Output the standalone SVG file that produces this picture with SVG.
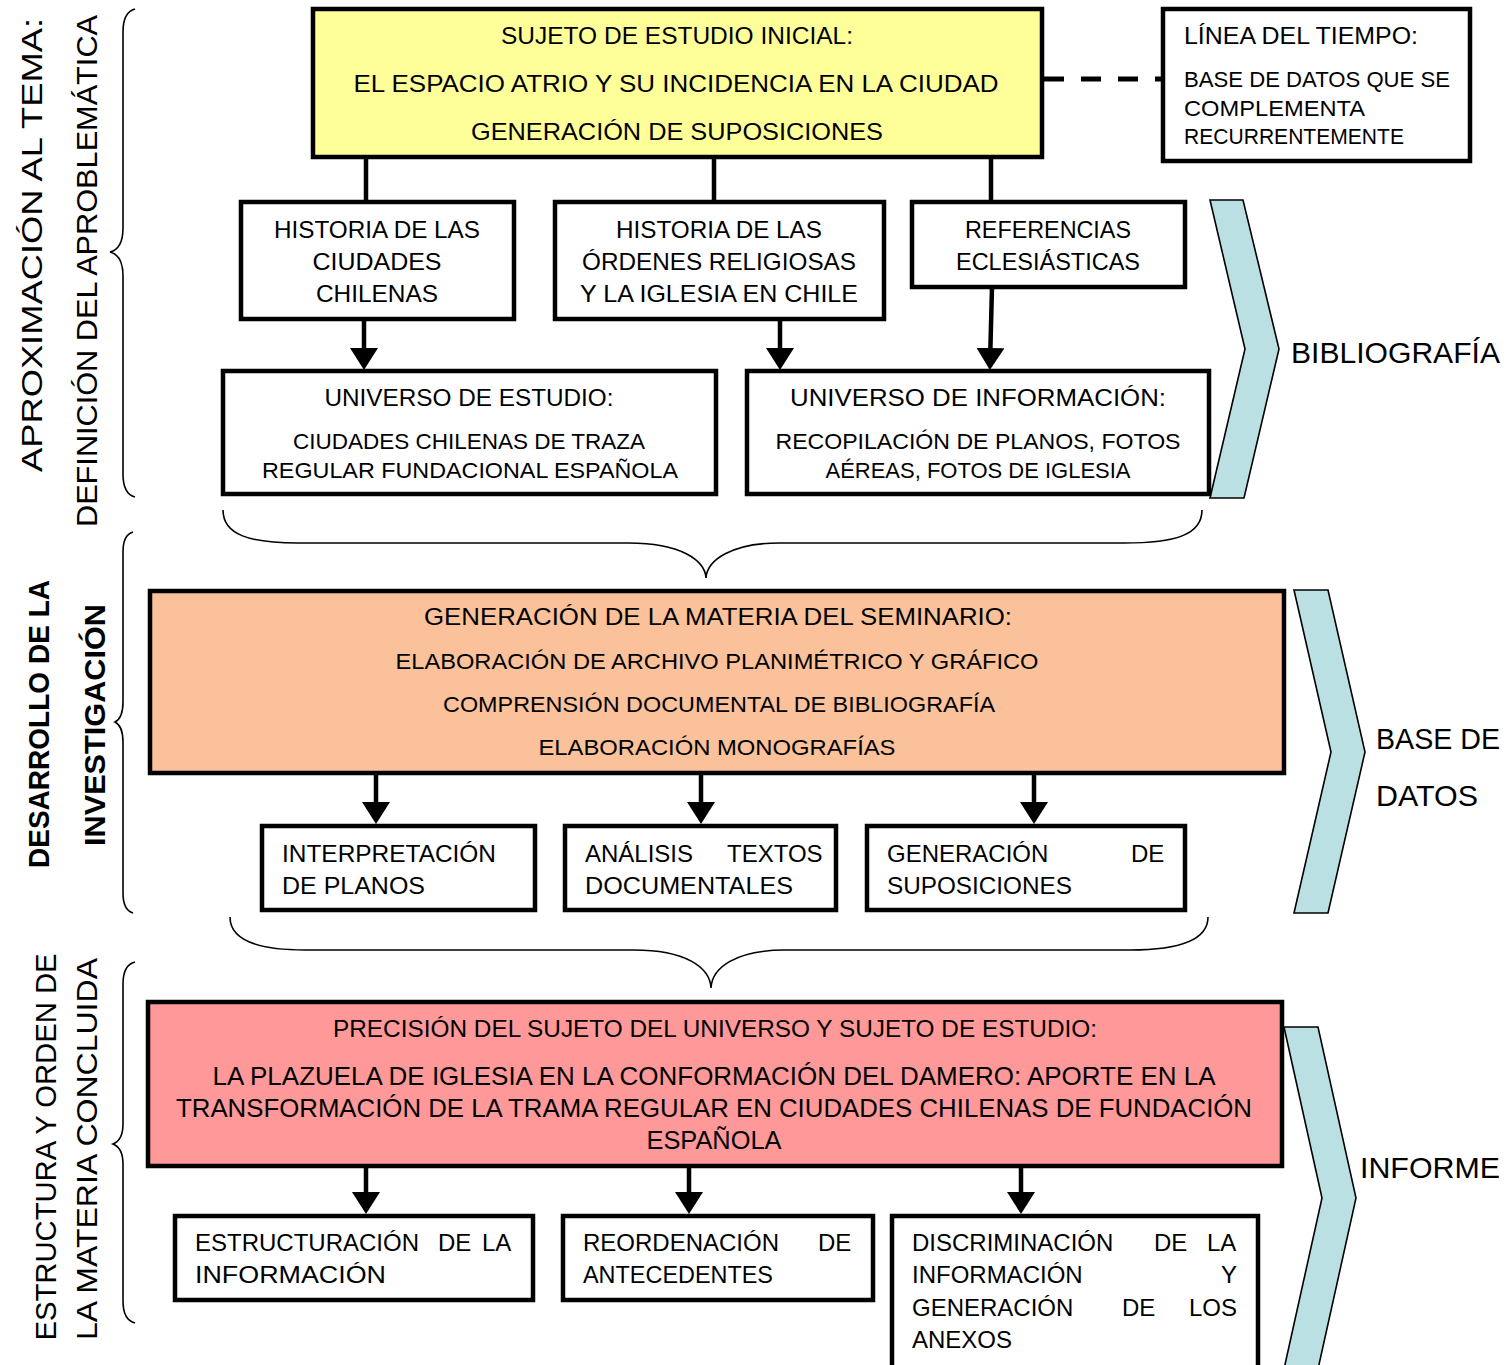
<svg xmlns="http://www.w3.org/2000/svg" width="1508" height="1365" viewBox="0 0 1508 1365">
<defs>
<style>
text{font-family:"Liberation Sans",Arial,sans-serif;fill:#000}
.c{text-anchor:middle}
.f24{font-size:24px}
.f22{font-size:22px}
.f26{font-size:26px}
.f30{font-size:30px}
.bx{stroke:#000;stroke-width:4.5}
.w{fill:#fff}
.chev{fill:#BBE0E3;stroke:#000;stroke-width:1.6;stroke-linejoin:miter}
.brace{fill:none;stroke:#000;stroke-width:1.6}
.ln{stroke:#000;stroke-width:4.5;fill:none}
.ar{stroke:#000;stroke-width:4.5;fill:none;marker-end:url(#ah)}
</style>
<marker id="ah" viewBox="0 0 22 28" refX="16" refY="14" markerWidth="22" markerHeight="28" markerUnits="userSpaceOnUse" orient="auto">
<path d="M0,0 L22,14 L0,28 z" fill="#000"/>
</marker>
</defs>
<rect width="1508" height="1365" fill="#fff"/>

<g id="side-labels">
<path class="brace" d="M135,9 C127,11 123,18 123,32 L123,228 C123,244 118,250 110,252 C118,254 123,260 123,276 L123,474 C123,488 127,495 135,497"/>
<text class="c f30" transform="translate(42,245) rotate(-90)" textLength="454" lengthAdjust="spacingAndGlyphs">APROXIMACIÓN AL TEMA:</text>
<text class="c f30" transform="translate(97,271) rotate(-90)" textLength="512" lengthAdjust="spacingAndGlyphs">DEFINICIÓN DEL APROBLEMÁTICA</text>
<path class="brace" d="M133,532 C126,534 123,540 123,552 L123,702 C123,716 119,720 115,722 C119,724 123,728 123,742 L123,893 C123,905 126,911 133,913"/>
<text class="c f30" font-weight="bold" transform="translate(49,724) rotate(-90)" textLength="288" lengthAdjust="spacingAndGlyphs">DESARROLLO DE LA</text>
<text class="c f30" font-weight="bold" transform="translate(105,725) rotate(-90)" textLength="242" lengthAdjust="spacingAndGlyphs">INVESTIGACIÓN</text>
<path class="brace" d="M135,962 C127,964 123,971 123,984 L123,1124 C123,1138 118,1142 113,1144 C118,1146 123,1150 123,1164 L123,1301 C123,1314 127,1321 135,1323"/>
<text class="c f30" transform="translate(56,1147) rotate(-90)" textLength="387" lengthAdjust="spacingAndGlyphs">ESTRUCTURA Y ORDEN DE</text>
<text class="c f30" transform="translate(97,1149) rotate(-90)" textLength="382" lengthAdjust="spacingAndGlyphs">LA MATERIA CONCLUIDA</text>
</g>

<g id="chevrons">
<polygon class="chev" points="1210,200 1243,200 1279,349 1244,498 1210,498 1245,349"/>
<text class="f30" x="1291" y="363" textLength="209" lengthAdjust="spacingAndGlyphs">BIBLIOGRAFÍA</text>
<polygon class="chev" points="1294,590 1328,590 1365,752 1328,913 1294,913 1331,752"/>
<text class="f30" x="1376" y="749" textLength="124" lengthAdjust="spacingAndGlyphs">BASE DE</text>
<text class="f30" x="1376" y="806" textLength="102" lengthAdjust="spacingAndGlyphs">DATOS</text>
<polygon class="chev" points="1284,1027 1318,1027 1356,1198 1318,1369 1284,1369 1322,1198"/>
<text class="f30" x="1360" y="1178" textLength="140" lengthAdjust="spacingAndGlyphs">INFORME</text>
</g>

<g id="connectors">
<line class="ln" x1="366" y1="157" x2="366" y2="201"/>
<line class="ln" x1="714" y1="157" x2="714" y2="201"/>
<line class="ln" x1="991" y1="157" x2="991" y2="201"/>
<line x1="1044" y1="79" x2="1163" y2="79" stroke="#000" stroke-width="5" stroke-dasharray="20 17"/>
<line class="ar" x1="364" y1="319" x2="364" y2="364"/>
<line class="ar" x1="780" y1="319" x2="780" y2="364"/>
<line class="ar" x1="992" y1="287" x2="990" y2="364"/>
<path class="brace" d="M223,510 C223,535 250,543 298,543 L629,543 C680,543 705,560 706,578 C707,560 732,543 779,543 L1124,543 C1175,543 1202,535 1202,510"/>
<line class="ar" x1="376" y1="773" x2="376" y2="818"/>
<line class="ar" x1="701" y1="773" x2="701" y2="818"/>
<line class="ar" x1="1034" y1="773" x2="1034" y2="818"/>
<path class="brace" d="M230,917 C230,940 257,950 305,950 L634,950 C685,950 710,967 711,988 C712,967 737,950 785,950 L1130,950 C1180,950 1208,940 1208,917"/>
<line class="ar" x1="366" y1="1166" x2="366" y2="1208"/>
<line class="ar" x1="689" y1="1166" x2="689" y2="1208"/>
<line class="ar" x1="1021" y1="1166" x2="1021" y2="1208"/>
</g>

<g id="sujeto-inicial">
<rect class="bx" x="313" y="9" width="729" height="148" fill="#FFFF99"/>
<text class="c f24" x="677" y="44" textLength="352" lengthAdjust="spacingAndGlyphs">SUJETO DE ESTUDIO INICIAL:</text>
<text class="c f24" x="676" y="92" textLength="645" lengthAdjust="spacingAndGlyphs">EL ESPACIO ATRIO Y SU INCIDENCIA EN LA CIUDAD</text>
<text class="c f24" x="677" y="140" textLength="412" lengthAdjust="spacingAndGlyphs">GENERACIÓN DE SUPOSICIONES</text>
</g>

<g id="linea-tiempo">
<rect class="bx w" x="1163" y="9" width="307" height="152"/>
<text class="f24" x="1184" y="44" textLength="234" lengthAdjust="spacingAndGlyphs">LÍNEA DEL TIEMPO:</text>
<text class="f22" x="1184" y="87" textLength="266" lengthAdjust="spacingAndGlyphs">BASE DE DATOS QUE SE</text>
<text class="f22" x="1184" y="116" textLength="181" lengthAdjust="spacingAndGlyphs">COMPLEMENTA</text>
<text class="f22" x="1184" y="144" textLength="220" lengthAdjust="spacingAndGlyphs">RECURRENTEMENTE</text>
</g>

<g id="historia-ciudades">
<rect class="bx w" x="241" y="202" width="273" height="117"/>
<text class="c f24" x="377" y="238" textLength="206" lengthAdjust="spacingAndGlyphs">HISTORIA DE LAS</text>
<text class="c f24" x="377" y="270" textLength="129" lengthAdjust="spacingAndGlyphs">CIUDADES</text>
<text class="c f24" x="377" y="302" textLength="122" lengthAdjust="spacingAndGlyphs">CHILENAS</text>
</g>

<g id="historia-ordenes">
<rect class="bx w" x="555" y="202" width="329" height="117"/>
<text class="c f24" x="719" y="238" textLength="206" lengthAdjust="spacingAndGlyphs">HISTORIA DE LAS</text>
<text class="c f24" x="719" y="270" textLength="274" lengthAdjust="spacingAndGlyphs">ÓRDENES RELIGIOSAS</text>
<text class="c f24" x="719" y="302" textLength="278" lengthAdjust="spacingAndGlyphs">Y LA IGLESIA EN CHILE</text>
</g>

<g id="referencias">
<rect class="bx w" x="912" y="202" width="273" height="85"/>
<text class="c f24" x="1048" y="238" textLength="166" lengthAdjust="spacingAndGlyphs">REFERENCIAS</text>
<text class="c f24" x="1048" y="270" textLength="184" lengthAdjust="spacingAndGlyphs">ECLESIÁSTICAS</text>
</g>

<g id="universo-estudio">
<rect class="bx w" x="223" y="371" width="493" height="123"/>
<text class="c f24" x="469" y="406" textLength="289" lengthAdjust="spacingAndGlyphs">UNIVERSO DE ESTUDIO:</text>
<text class="c f22" x="469" y="449" textLength="352" lengthAdjust="spacingAndGlyphs">CIUDADES CHILENAS DE TRAZA</text>
<text class="c f22" x="470" y="478" textLength="416" lengthAdjust="spacingAndGlyphs">REGULAR FUNDACIONAL ESPAÑOLA</text>
</g>

<g id="universo-informacion">
<rect class="bx w" x="747" y="371" width="462" height="123"/>
<text class="c f24" x="978" y="406" textLength="376" lengthAdjust="spacingAndGlyphs">UNIVERSO DE INFORMACIÓN:</text>
<text class="c f22" x="978" y="449" textLength="405" lengthAdjust="spacingAndGlyphs">RECOPILACIÓN DE PLANOS, FOTOS</text>
<text class="c f22" x="978" y="478" textLength="305" lengthAdjust="spacingAndGlyphs">AÉREAS, FOTOS DE IGLESIA</text>
</g>

<g id="materia-seminario">
<rect class="bx" x="150" y="591" width="1134" height="182" fill="#FBC19A"/>
<text class="c f24" x="718" y="625" textLength="588" lengthAdjust="spacingAndGlyphs">GENERACIÓN DE LA MATERIA DEL SEMINARIO:</text>
<text class="c f22" x="717" y="669" textLength="643" lengthAdjust="spacingAndGlyphs">ELABORACIÓN DE ARCHIVO PLANIMÉTRICO Y GRÁFICO</text>
<text class="c f22" x="719" y="712" textLength="552" lengthAdjust="spacingAndGlyphs">COMPRENSIÓN DOCUMENTAL DE BIBLIOGRAFÍA</text>
<text class="c f22" x="717" y="755" textLength="357" lengthAdjust="spacingAndGlyphs">ELABORACIÓN MONOGRAFÍAS</text>
</g>

<g id="interpretacion">
<rect class="bx w" x="262" y="826" width="273" height="84"/>
<text class="f24" x="282" y="862" textLength="214" lengthAdjust="spacingAndGlyphs">INTERPRETACIÓN</text>
<text class="f24" x="282" y="894" textLength="143" lengthAdjust="spacingAndGlyphs">DE PLANOS</text>
</g>

<g id="analisis">
<rect class="bx w" x="565" y="826" width="271" height="84"/>
<text class="f24" y="862"><tspan x="585">ANÁLISIS</tspan><tspan x="727">TEXTOS</tspan></text>
<text class="f24" x="585" y="894" textLength="208" lengthAdjust="spacingAndGlyphs">DOCUMENTALES</text>
</g>

<g id="generacion-suposiciones">
<rect class="bx w" x="867" y="826" width="318" height="84"/>
<text class="f24" y="862"><tspan x="887">GENERACIÓN</tspan><tspan x="1131">DE</tspan></text>
<text class="f24" x="887" y="894" textLength="185" lengthAdjust="spacingAndGlyphs">SUPOSICIONES</text>
</g>

<g id="precision-sujeto">
<rect class="bx" x="148" y="1002" width="1134" height="164" fill="#FF9999"/>
<text class="c f24" x="715" y="1037" textLength="764" lengthAdjust="spacingAndGlyphs">PRECISIÓN DEL SUJETO DEL UNIVERSO Y SUJETO DE ESTUDIO:</text>
<text class="c f26" x="714" y="1085" textLength="1003" lengthAdjust="spacingAndGlyphs">LA PLAZUELA DE IGLESIA EN LA CONFORMACIÓN DEL DAMERO: APORTE EN LA</text>
<text class="c f26" x="714" y="1117" textLength="1076" lengthAdjust="spacingAndGlyphs">TRANSFORMACIÓN DE LA TRAMA REGULAR EN CIUDADES CHILENAS DE FUNDACIÓN</text>
<text class="c f26" x="714" y="1149" textLength="135" lengthAdjust="spacingAndGlyphs">ESPAÑOLA</text>
</g>

<g id="estructuracion">
<rect class="bx w" x="175" y="1216" width="358" height="84"/>
<text class="f24" y="1251"><tspan x="195">ESTRUCTURACIÓN</tspan><tspan x="438">DE</tspan><tspan x="482">LA</tspan></text>
<text class="f24" x="195" y="1283" textLength="191" lengthAdjust="spacingAndGlyphs">INFORMACIÓN</text>
</g>

<g id="reordenacion">
<rect class="bx w" x="563" y="1216" width="310" height="84"/>
<text class="f24" y="1251"><tspan x="583">REORDENACIÓN</tspan><tspan x="818">DE</tspan></text>
<text class="f24" x="583" y="1283" textLength="190" lengthAdjust="spacingAndGlyphs">ANTECEDENTES</text>
</g>

<g id="discriminacion">
<rect class="bx w" x="892" y="1216" width="366" height="152"/>
<text class="f24" y="1251"><tspan x="912">DISCRIMINACIÓN</tspan><tspan x="1154">DE</tspan><tspan x="1207">LA</tspan></text>
<text class="f24" y="1283"><tspan x="912">INFORMACIÓN</tspan><tspan x="1221">Y</tspan></text>
<text class="f24" y="1316"><tspan x="912">GENERACIÓN</tspan><tspan x="1122">DE</tspan><tspan x="1189">LOS</tspan></text>
<text class="f24" x="912" y="1348">ANEXOS</text>
</g>
</svg>
